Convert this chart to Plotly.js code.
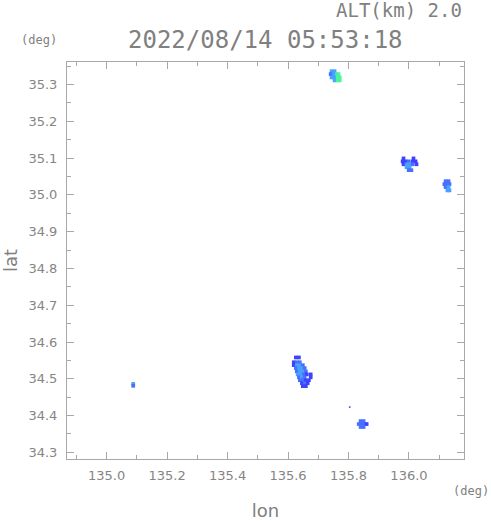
<!DOCTYPE html>
<html>
<head>
<meta charset="utf-8">
<script src="https://cdn.plot.ly/plotly-3.0.1.min.js"></script>
<style>html,body{margin:0;padding:0;background:#fff;}#chart{width:491px;height:521px;}</style>
</head>
<body>
<div id="chart"></div>
<script>
// echo cells: longitude (deg), latitude (deg), intensity level (1..5)
const lon = [
  // cell near 135.75E 35.32N
  135.744,135.754,
  135.741,135.751,135.761,135.767,
  135.744,135.754,135.764,135.771,
  135.754,135.764,135.771,
  // cell near 136.00E 35.08N
  135.982,136.015,
  135.979,135.989,135.999,136.012,136.022,
  135.982,135.992,136.002,136.012,136.025,
  135.992,136.002,
  135.999,136.008,
  // cell near 136.13E 35.02N
  136.121,136.131,
  136.117,136.127,136.134,
  136.121,136.131,
  136.127,136.134,
  // cell near 135.64E 34.52N
  135.626,135.636,
  135.619,135.629,135.639,
  135.619,135.629,135.639,135.649,
  135.626,135.636,135.646,135.655,
  135.629,135.639,135.649,135.659,
  135.632,135.642,135.652,135.662,135.675,
  135.636,135.646,135.655,135.675,
  135.639,135.649,135.659,135.669,
  135.646,135.655,135.665,
  135.649,135.659,
  // cell near 135.85E 34.38N
  135.840,135.850,
  135.834,135.844,135.853,135.860,
  135.840,135.850,
  // isolated echo near 135.09E
  135.088,135.088
];
const lat = [
  35.336,35.336,
  35.328,35.328,35.328,35.328,
  35.319,35.319,35.319,35.319,
  35.311,35.311,35.311,

  35.099,35.099,
  35.091,35.091,35.091,35.091,35.091,
  35.083,35.083,35.083,35.083,35.083,
  35.075,35.075,
  35.067,35.067,

  35.037,35.037,
  35.029,35.029,35.029,
  35.021,35.021,
  35.012,35.012,

  34.558,34.558,
  34.545,34.545,34.545,
  34.537,34.537,34.537,34.537,
  34.529,34.529,34.529,34.529,
  34.520,34.520,34.520,34.520,
  34.512,34.512,34.512,34.512,34.512,
  34.504,34.504,34.504,34.504,
  34.496,34.496,34.496,34.496,
  34.488,34.488,34.488,
  34.480,34.480,

  34.385,34.385,
  34.377,34.377,34.377,34.377,
  34.369,34.369,

  34.486,34.481
];
const level = [
  3,3,
  2,3,4,5,
  3,3,5,5,
  3,5,5,

  1,1,
  1,1,2,1,1,
  1,3,3,2,1,
  3,3,
  2,2,

  2,2,
  2,2,2,
  2,3,
  3,3,

  1,1,
  1,2,2,
  1,3,3,2,
  2,3,3,2,
  2,3,3,2,
  3,3,2,1,1,
  2,3,2,1,
  2,2,1,1,
  1,2,1,
  1,1,

  2,2,
  2,2,2,1,
  2,2,

  3,2
];
// single-pixel echo
const dotLon = [135.804];
const dotLat = [34.423];
const dotLevel = [1];

const titleText = '2022/08/14 05:53:18';
const altText = 'ALT(km) 2.0';
const unitText = '(deg)';

const gray = '#808080';
const tickFont = {family: 'DejaVu Sans', size: 13, color: '#858585'};
const cscale = [[0,'rgb(62,66,255)'],[0.25,'rgb(72,112,255)'],[0.5,'rgb(72,160,255)'],[0.75,'rgb(70,222,210)'],[1,'rgb(76,245,150)']];

const trace = {
  type: 'scatter', mode: 'markers',
  x: lon, y: lat,
  marker: {
    symbol: 'square', size: 3.7, line: {width: 0},
    color: level, cmin: 1, cmax: 5, colorscale: cscale, showscale: false
  },
  hoverinfo: 'x+y'
};
const dots = {
  type: 'scatter', mode: 'markers',
  x: dotLon, y: dotLat,
  marker: {symbol: 'square', size: 1.6, line: {width: 0},
    color: dotLevel, cmin: 1, cmax: 5, colorscale: cscale, showscale: false},
  hoverinfo: 'x+y'
};

const axisCommon = {
  showgrid: false, zeroline: false,
  showline: true, linecolor: '#a8a8a8', linewidth: 1, mirror: 'ticks',
  ticks: 'inside', ticklen: 7, tickcolor: '#a8a8a8', tickwidth: 1,
  tickfont: tickFont, tickformat: '.1f',
  minor: {ticks: 'inside', ticklen: 4, tickcolor: '#a8a8a8', showgrid: false}
};

const layout = {
  width: 491, height: 521,
  margin: {l: 67, r: 27, t: 62, b: 62},
  paper_bgcolor: '#ffffff', plot_bgcolor: '#ffffff',
  showlegend: false,
  xaxis: Object.assign({}, axisCommon, {
    range: [134.869, 136.182], tick0: 135.0, dtick: 0.2,
    minor: Object.assign({}, axisCommon.minor, {dtick: 0.1}),
    ticklabelstandoff: 4,
    title: {text: 'lon', font: {family: 'DejaVu Sans', size: 18, color: gray}, standoff: 24}
  }),
  yaxis: Object.assign({}, axisCommon, {
    range: [34.282, 35.361], tick0: 34.3, dtick: 0.1,
    minor: Object.assign({}, axisCommon.minor, {dtick: 0.05}),
    ticklabelstandoff: 6,
    title: {text: 'lat', font: {family: 'DejaVu Sans', size: 18, color: gray}, standoff: 12}
  }),
  annotations: [
    {text: titleText, xref: 'paper', yref: 'paper', x: 0.5, y: 1, yshift: 22, xanchor: 'center', yanchor: 'middle', showarrow: false,
     font: {family: 'DejaVu Sans Mono', size: 24, color: gray}},
    {text: altText, xref: 'paper', yref: 'paper', x: 1, y: 1, xshift: 0, yshift: 52, xanchor: 'right', yanchor: 'middle', showarrow: false,
     font: {family: 'DejaVu Sans Mono', size: 19, color: gray}},
    {text: unitText, xref: 'paper', yref: 'paper', x: 0, y: 1, xshift: -8, yshift: 22, xanchor: 'right', yanchor: 'middle', showarrow: false,
     font: {family: 'DejaVu Sans Mono', size: 12, color: gray}},
    {text: unitText, xref: 'paper', yref: 'paper', x: 1, y: 0, xshift: 27, yshift: -32, xanchor: 'right', yanchor: 'middle', showarrow: false,
     font: {family: 'DejaVu Sans Mono', size: 12, color: gray}}
  ]
};

Plotly.newPlot('chart', [trace, dots], layout, {displayModeBar: false, staticPlot: true});
</script>
</body>
</html>
